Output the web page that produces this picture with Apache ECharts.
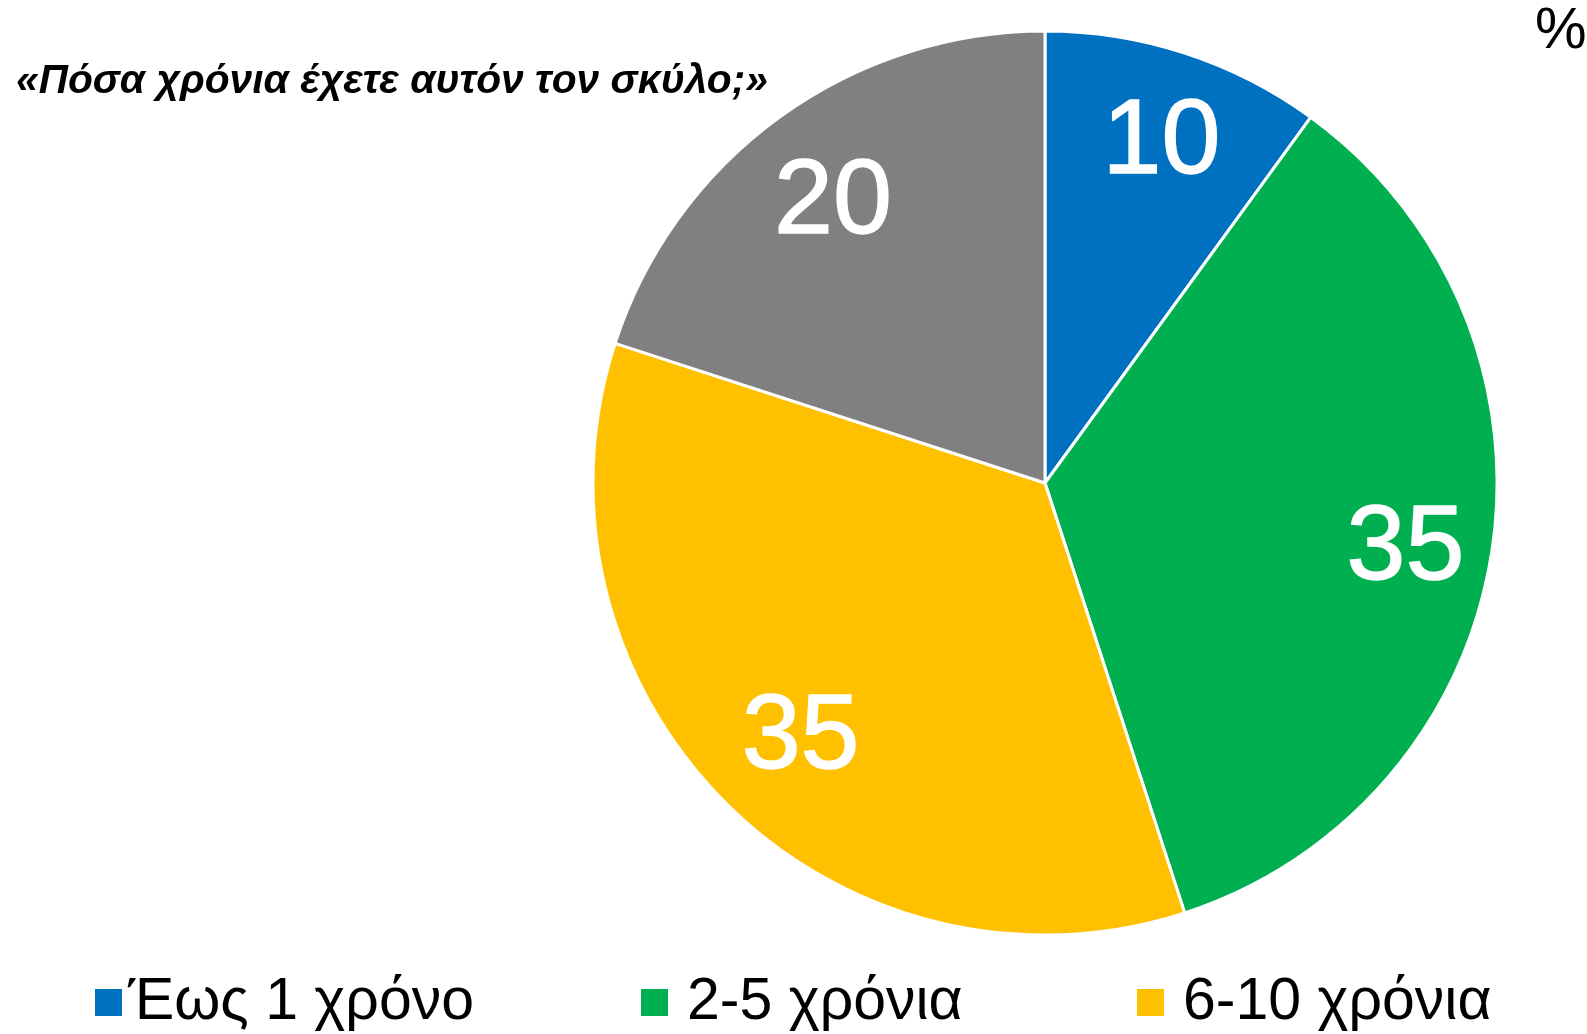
<!DOCTYPE html>
<html>
<head>
<meta charset="utf-8">
<script src="https://cdn.jsdelivr.net/npm/echarts@6/dist/echarts.min.js"></script>
<style>
  html, body { margin: 0; padding: 0; background: #fff; }
  #container { width: 1587px; height: 1034px; }
</style>
</head>
<body>
<div id="container"></div>
<script>
var categories = ['Έως 1 χρόνο', '2-5 χρόνια', '6-10 χρόνια', 'Πάνω από 10 χρόνια'];
var values = [10, 35, 35, 20];
var colors = ['#0070C0', '#00B050', '#FFC000', '#808080'];
var legendLeft = [88, 634, 1130];
var legendTextGap = [0, 13, 13];
// nudge each value label to sit where the original has it
var labelNudge = [[4, 7], [1, 10], [13, -2], [2, 15]];

var titleText = '«Πόσα χρόνια έχετε αυτόν τον σκύλο;»';
var titleFont = 'italic bold 40px "Liberation Sans"';
var titleLeft = 16;
var titleWidth = 752;

var dom = document.getElementById('container');
var myChart = echarts.init(dom);

// fit the title to the original width
var cv = document.createElement('canvas').getContext('2d');
cv.font = titleFont;
var titleScale = titleWidth / cv.measureText(titleText).width;

var pieData = categories.map(function (name, i) {
  return { name: name, value: values[i], itemStyle: { color: colors[i] } };
});

var labelData = values.map(function (v, i) {
  return { name: 'l' + i, value: v, label: { offset: labelNudge[i] } };
});

var legends = legendLeft.map(function (x, i) {
  return {
    data: [categories[i]],
    left: x,
    top: 968,
    itemWidth: 29,
    itemHeight: 29,
    itemGap: 0,
    icon: 'rect',
    selectedMode: false,
    textStyle: {
      fontSize: 59,
      color: '#000',
      fontFamily: 'Liberation Sans',
      padding: [0, 0, 0, legendTextGap[i]]
    }
  };
});

var option = {
  animation: false,
  graphic: [{
    type: 'text',
    x: titleLeft,
    y: 82,
    scaleX: titleScale,
    silent: true,
    style: {
      text: titleText,
      font: titleFont,
      fill: '#000',
      align: 'left',
      verticalAlign: 'middle'
    }
  }],
  title: [{
    text: '%',
    left: 1530,
    top: -2,
    textStyle: {
      fontSize: 58,
      fontWeight: 'normal',
      color: '#000',
      fontFamily: 'Liberation Sans'
    }
  }],
  legend: legends,
  series: [
    {
      name: 'pie',
      type: 'pie',
      center: [1045, 483],
      radius: [0, 452],
      startAngle: 90,
      clockwise: true,
      silent: true,
      label: { show: false },
      labelLine: { show: false },
      itemStyle: { borderColor: '#fff', borderWidth: 3 },
      data: pieData
    },
    {
      name: 'labels',
      type: 'pie',
      center: [1045, 483],
      radius: [270, 452],
      startAngle: 90,
      clockwise: true,
      silent: true,
      legendHoverLink: false,
      itemStyle: { color: 'rgba(0,0,0,0)', borderWidth: 0 },
      label: {
        show: true,
        position: 'inside',
        formatter: '{c}',
        color: '#fff',
        fontSize: 106,
        fontFamily: 'Liberation Sans',
        textBorderColor: '#fff',
        textBorderWidth: 1.5
      },
      labelLine: { show: false },
      data: labelData
    }
  ]
};

myChart.setOption(option);
</script>
</body>
</html>
